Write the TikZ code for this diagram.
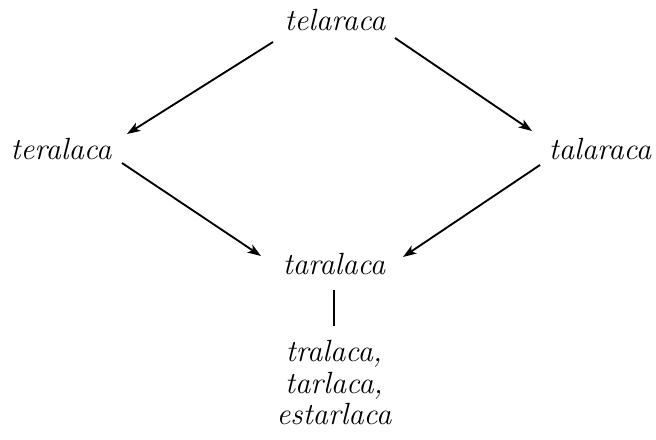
\documentclass[tikz,border=0pt]{standalone}
\usetikzlibrary{arrows.meta}
\begin{document}
\begin{tikzpicture}[x=0.75pt,y=-0.75pt,
  word/.style={font=\fontsize{23}{27}\selectfont\itshape, inner sep=0pt, anchor=base},
  arr/.style={draw, line width=1.4pt, -{Stealth[length=10pt,width=7pt,inset=2.5pt]}},
  ln/.style={draw, line width=1.4pt}]
\useasboundingbox (0,0) rectangle (656,439);
\node[word] (top) at (335,31) {telaraca};
\node[word] (left) at (61,159) {teralaca};
\node[word] (right) at (600,159) {talaraca};
\node[word] (mid) at (334,274) {taralaca};
\node[word] (r1) at (334,361) {tralaca,};
\node[word] (r2) at (334,393) {tarlaca,};
\node[word] (r3) at (334,424) {estarlaca};
\coordinate (a1s) at (273,42); \coordinate (a1e) at (127,134);
\coordinate (a2s) at (395,38); \coordinate (a2e) at (532,131);
\coordinate (a3s) at (122,163); \coordinate (a3e) at (261,256);
\coordinate (a4s) at (540,165); \coordinate (a4e) at (403,257);
\coordinate (vs) at (334,290); \coordinate (ve) at (334,326);
\draw[arr] (a1s) -- (a1e);
\draw[arr] (a2s) -- (a2e);
\draw[arr] (a3s) -- (a3e);
\draw[arr] (a4s) -- (a4e);
\draw[ln] (vs) -- (ve);
\end{tikzpicture}
\end{document}
